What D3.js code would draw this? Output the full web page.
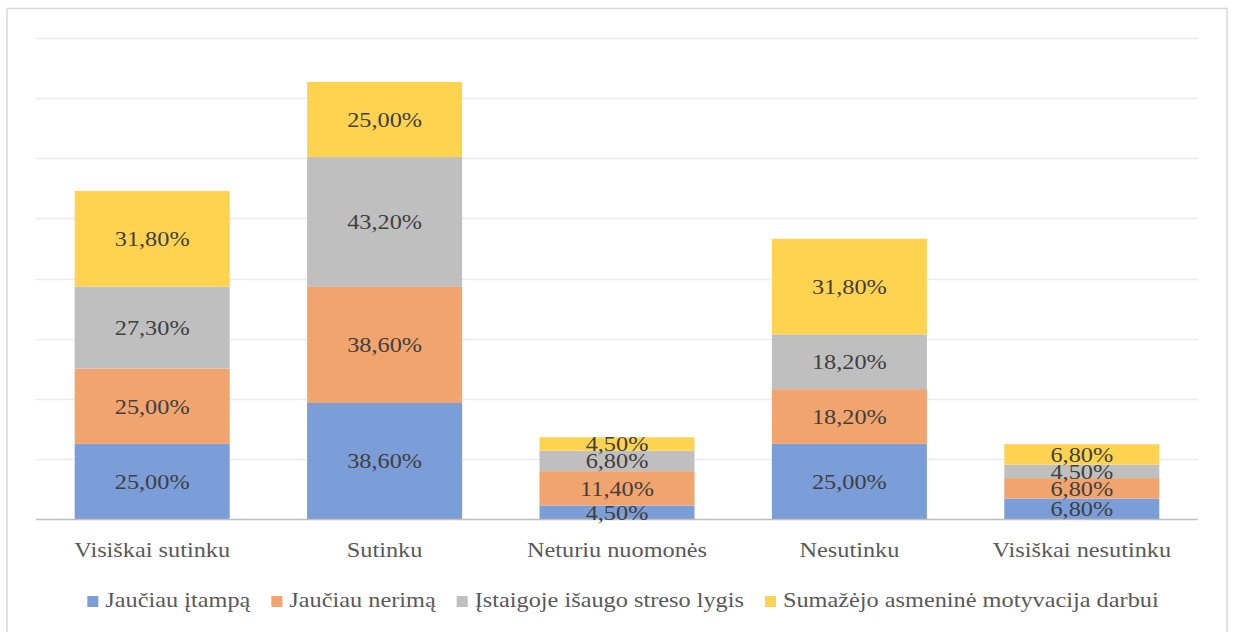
<!DOCTYPE html>
<html>
<head>
<meta charset="utf-8">
<script src="https://cdn.jsdelivr.net/npm/d3@7"></script>
<style>
  html, body { margin: 0; padding: 0; background: #fff; }
  svg { display: block; }
</style>
</head>
<body>
<svg id="chart" width="1233" height="632"></svg>
<script>
const categories = ["Visiškai sutinku", "Sutinku", "Neturiu nuomonės", "Nesutinku", "Visiškai nesutinku"];
const seriesNames = ["Jaučiau įtampą", "Jaučiau nerimą", "Įstaigoje išaugo streso lygis", "Sumažėjo asmeninė motyvacija darbui"];
const seriesColors = ["#7b9dd8", "#f1a46e", "#bfbfbf", "#ffd34f"];
const jauciauItampa = [25.0, 38.6, 4.5, 25.0, 6.8];
const jauciauNerima = [25.0, 38.6, 11.4, 18.2, 6.8];
const stresoLygis = [27.3, 43.2, 6.8, 18.2, 4.5];
const motyvacija = [31.8, 25.0, 4.5, 31.8, 6.8];
const yTicks = [0, 20, 40, 60, 80, 100, 120, 140, 160];

const seriesValues = [jauciauItampa, jauciauNerima, stresoLygis, motyvacija];

const FONT = "'Liberation Serif', Tinos, 'Times New Roman', 'DejaVu Serif', serif";
const svg = d3.select("#chart").attr("font-family", FONT);
const FS = 21.5;  // text size
const SX = 1.13;  // horizontal stretch applied to the serif text

// outer frame
svg.append("rect")
  .attr("x", 7).attr("y", 8.5).attr("width", 1220).attr("height", 640)
  .attr("fill", "#fff").attr("stroke", "#d9d9d9").attr("stroke-width", 1.5);

const plot = { left: 36, right: 1198, top: 38, bottom: 519 };

const x = d3.scaleBand().domain(categories)
  .range([plot.left, plot.right]).paddingInner(0.333).paddingOuter(0.1665);
const y = d3.scaleLinear().domain([0, 160]).range([plot.bottom, plot.top]);

// rows for the stack layout
const rows = categories.map((c, i) => {
  const r = { category: c };
  seriesNames.forEach((s, k) => { r[s] = seriesValues[k][i]; });
  return r;
});
const stacked = d3.stack().keys(seriesNames)(rows);

// gridlines
svg.append("g").selectAll("line").data(yTicks.filter(t => t > 0)).join("line")
  .attr("x1", plot.left).attr("x2", plot.right)
  .attr("y1", d => Math.round(y(d)) + 0.5).attr("y2", d => Math.round(y(d)) + 0.5)
  .attr("stroke", "#ebebeb").attr("stroke-width", 1.5);

// bars
const layers = svg.append("g").selectAll("g").data(stacked).join("g")
  .attr("fill", (d, i) => seriesColors[i]);
layers.selectAll("rect").data(d => d).join("rect")
  .attr("x", d => x(d.data.category))
  .attr("width", x.bandwidth())
  .attr("y", d => y(d[1]))
  .attr("height", d => y(d[0]) - y(d[1]));

// baseline
svg.append("line")
  .attr("x1", plot.left).attr("x2", plot.right)
  .attr("y1", y(0) + 0.5).attr("y2", y(0) + 0.5)
  .attr("stroke", "#bfbfbf").attr("stroke-width", 1.5);

// value labels
const fmt = v => v.toFixed(2).replace(".", ",") + "%";
const labelLayer = svg.append("g");
stacked.forEach(layer => {
  layer.forEach(d => {
    const cx = x(d.data.category) + x.bandwidth() / 2;
    const cy = (y(d[0]) + y(d[1])) / 2;
    labelLayer.append("text")
      .attr("transform", `translate(${cx},${cy + 7.5}) scale(${SX},1)`)
      .attr("text-anchor", "middle")
      .attr("font-size", FS)
      .attr("fill", "#404040")
      .text(fmt(d[1] - d[0]));
  });
});

// category labels
svg.append("g").selectAll("text").data(categories).join("text")
  .attr("transform", d => `translate(${x(d) + x.bandwidth() / 2},557) scale(${SX},1)`)
  .attr("text-anchor", "middle")
  .attr("font-size", FS)
  .attr("fill", "#595959")
  .text(d => d);

// legend
const legend = svg.append("g");
const items = seriesNames.map((name, i) => {
  const g = legend.append("g");
  g.append("rect").attr("x", 0).attr("y", -11).attr("width", 11).attr("height", 11)
    .attr("fill", seriesColors[i]);
  const t = g.append("text")
    .attr("transform", `translate(18,0) scale(${SX},1)`)
    .attr("font-size", FS)
    .attr("fill", "#595959")
    .text(name);
  const w = 18 + t.node().getComputedTextLength() * SX;
  return { g, w };
});
const gap = 21;
const total = d3.sum(items, d => d.w) + gap * (items.length - 1);
let lx = (91 + 1155) / 2 - total / 2;
items.forEach(it => {
  it.g.attr("transform", `translate(${lx},607)`);
  lx += it.w + gap;
});
</script>
</body>
</html>
